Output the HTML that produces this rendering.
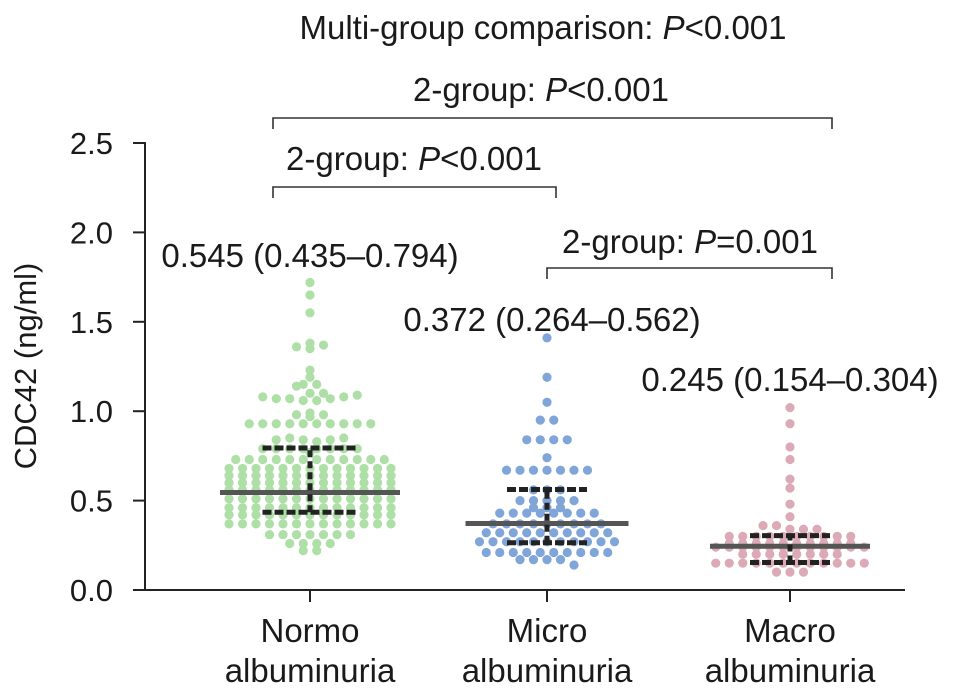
<!DOCTYPE html>
<html><head><meta charset="utf-8"><style>
body{margin:0;background:#fff}
svg text{font-family:"Liberation Sans",Arial,sans-serif;fill:#1a1a1a}
</style></head><body>
<svg id="chart" width="969" height="690" viewBox="0 0 969 690" xmlns="http://www.w3.org/2000/svg">
<g id="axes"></g><g id="dots"></g><g id="stats"></g><g id="ann"></g>
</svg>
<script>
const categories=["Normo","Micro","Macro"];
const catLine2=["albuminuria","albuminuria","albuminuria"];
const normo=[1.72,1.65,1.55,1.38,1.36,1.35,1.37,1.23,1.19,1.15,1.14,1.15,
1.1,1.08,1.07,1.07,1.06,1.06,1.07,1.08,1.09,1.1,0.98,0.99,0.97,0.98,
0.93,0.93,0.93,0.93,0.93,0.93,0.93,0.93,0.93,0.93,0.84,0.85,0.84,0.83,0.84,0.85,
0.79,0.79,0.79,0.79,0.79,0.79,0.79,0.79,0.77,
0.73,0.73,0.73,0.73,0.73,0.73,0.73,0.73,0.73,0.73,0.73,0.73,
0.68,0.68,0.68,0.68,0.68,0.68,0.68,0.68,0.68,0.68,0.68,0.68,0.68,
0.64,0.64,0.64,0.64,0.64,0.64,0.64,0.64,0.64,0.64,0.64,0.64,0.64,
0.6,0.6,0.6,0.6,0.6,0.6,0.6,0.6,0.6,0.6,0.6,0.6,0.6,
0.56,0.56,0.56,0.56,0.56,0.56,0.56,0.56,0.56,0.56,0.56,0.56,0.56,
0.51,0.51,0.51,0.51,0.51,0.51,0.51,0.51,0.51,0.51,0.51,0.51,0.51,
0.46,0.46,0.46,0.46,0.46,0.46,0.46,0.46,0.46,0.46,0.46,0.46,0.46,
0.42,0.42,0.42,0.42,0.42,0.42,0.42,0.42,0.42,0.42,0.42,0.42,0.42,
0.37,0.37,0.37,0.37,0.37,0.37,0.37,0.37,0.37,0.37,0.37,0.37,0.37,
0.31,0.31,0.31,0.31,0.31,0.31,0.31,0.26,0.26,0.26,0.26,0.22,0.22];
const micro=[1.41,1.19,1.05,0.95,0.95,0.84,0.84,0.84,0.84,0.74,
0.67,0.67,0.67,0.67,0.67,0.67,0.67,0.56,0.56,0.56,0.5,0.5,0.5,0.5,0.5,0.46,0.46,0.46,
0.43,0.43,0.43,0.43,0.43,0.43,0.43,0.43,0.37,0.37,0.37,0.37,0.37,0.37,0.37,0.37,0.37,
0.32,0.32,0.32,0.32,0.32,0.32,0.32,0.32,0.32,0.32,
0.27,0.27,0.27,0.27,0.27,0.27,0.27,0.27,0.27,0.27,0.27,
0.21,0.21,0.21,0.21,0.21,0.21,0.21,0.21,0.21,0.21,0.17,0.17,0.17,0.17,0.14];
const macro=[1.02,0.93,0.8,0.73,0.62,0.57,0.48,0.41,0.36,0.36,0.34,0.34,0.34,
0.3,0.3,0.3,0.3,0.3,0.3,0.3,0.3,0.3,0.3,0.26,0.26,0.26,0.26,0.26,0.26,0.26,0.26,0.26,0.26,
0.24,0.24,0.24,0.24,0.24,0.24,0.24,0.24,0.24,0.24,0.24,0.24,
0.2,0.2,0.2,0.2,0.2,0.2,0.2,0.2,0.15,0.15,0.15,0.15,0.15,0.15,0.15,0.15,0.15,0.15,0.15,0.15,0.1,0.1,0.1];
const medians=[0.545,0.372,0.245];
const q1=[0.435,0.264,0.154];
const q3=[0.794,0.562,0.304];
const yTicks=[0,0.5,1.0,1.5,2.0,2.5];
const yTickLabels=["0.0","0.5","1.0","1.5","2.0","2.5"];
const series=[normo,micro,macro];
const colors=["#addfa6","#80a5d8","#dcaab6"];
const medW=[180,163,160], iqrW=[95,80,80];

const NS="http://www.w3.org/2000/svg";
const y=v=>590-v*178.8;
const xC=i=>[310,547,790][i];
function mk(p,t,a){const e=document.createElementNS(NS,t);for(const k in a)e.setAttribute(k,a[k]);p.appendChild(e);return e;}
const axes=document.getElementById('axes'),dots=document.getElementById('dots'),stats=document.getElementById('stats'),ann=document.getElementById('ann');

let l=mk(axes,'line',{x1:145,y1:y(2.5)-1,x2:145,y2:591,stroke:'#222','stroke-width':2});


l=mk(axes,'line',{x1:144,y1:590,x2:905,y2:590,stroke:'#222','stroke-width':2});


yTicks.forEach((t,i)=>{
 const tk=mk(axes,'line',{x1:133,y1:y(t),x2:145,y2:y(t),stroke:'#222','stroke-width':2});
 
 
 const tx=mk(axes,'text',{x:113,y:y(t)+11,'text-anchor':'end','font-size':31});
 tx.textContent=yTickLabels[i];
 
 
});
let yl=mk(axes,'text',{x:0,y:0,'text-anchor':'middle','font-size':31,transform:'translate(36,366) rotate(-90)'});
yl.textContent="CDC42 (ng/ml)";


categories.forEach((c,i)=>{
 const xt=mk(axes,'line',{x1:xC(i),y1:590,x2:xC(i),y2:602,stroke:'#222','stroke-width':2});
 
 
 const t1=mk(axes,'text',{x:xC(i),y:642,'text-anchor':'middle','font-size':33});
 t1.textContent=c;
 
 
 const t2=mk(axes,'text',{x:xC(i),y:682,'text-anchor':'middle','font-size':33});
 t2.textContent=catLine2[i];
 
 
});
series.forEach((vals,g)=>{
 const bins={};
 vals.forEach(v=>{const k=Math.round(v/0.04);(bins[k]=bins[k]||[]).push(v);});
 Object.values(bins).forEach(b=>{
  b.forEach((v,j)=>{
   const c=mk(dots,'circle',{cx:xC(g)+(j-(b.length-1)/2)*13.5,cy:y(v),r:4.6,fill:colors[g]});
   
   
  });
 });
 const cx=xC(g);
 const m=mk(stats,'line',{x1:cx-medW[g]/2,y1:y(medians[g]),x2:cx+medW[g]/2,y2:y(medians[g]),stroke:'#555','stroke-width':5});
 
 
 [q1[g],q3[g]].forEach(q=>{
  const e=mk(stats,'line',{x1:cx-iqrW[g]/2,y1:y(q),x2:cx+iqrW[g]/2,y2:y(q),stroke:'#222','stroke-width':5,'stroke-dasharray':'9 3'});
  
  
 });
 const v=mk(stats,'line',{x1:cx,y1:y(q1[g]),x2:cx,y2:y(q3[g]),stroke:'#222','stroke-width':5,'stroke-dasharray':'7 4'});
 
 
});
function txt(x,yy,parts,name){
 const t=mk(ann,'text',{x:x,y:yy,'text-anchor':'middle','font-size':33});
 parts.forEach(p=>{const s=mk(t,'tspan',{});s.textContent=p[0];if(p[1])s.setAttribute('font-style','italic');});
 
 
}
function bracket(x1,x2,yy,name){
 const p=mk(ann,'path',{d:`M${x1},${yy+11}V${yy}H${x2}V${yy+11}`,fill:'none',stroke:'#333','stroke-width':1.6});
 
 
}
txt(543,39,[["Multi-group comparison: "],["P",1],["<0.001"]],'multi-group-p-label');
txt(541,101,[["2-group: "],["P",1],["<0.001"]],'normo-macro-p-label');
bracket(273,832,118,'normo-macro-bracket');
txt(414,170,[["2-group: "],["P",1],["<0.001"]],'normo-micro-p-label');
bracket(273,556,187,'normo-micro-bracket');
txt(690,253,[["2-group: "],["P",1],["=0.001"]],'micro-macro-p-label');
bracket(547,832,268,'micro-macro-bracket');
txt(310,267,[["0.545 (0.435–0.794)"]],'normo-summary-label');
txt(552,331,[["0.372 (0.264–0.562)"]],'micro-summary-label');
txt(790,391,[["0.245 (0.154–0.304)"]],'macro-summary-label');
</script>
</body></html>
